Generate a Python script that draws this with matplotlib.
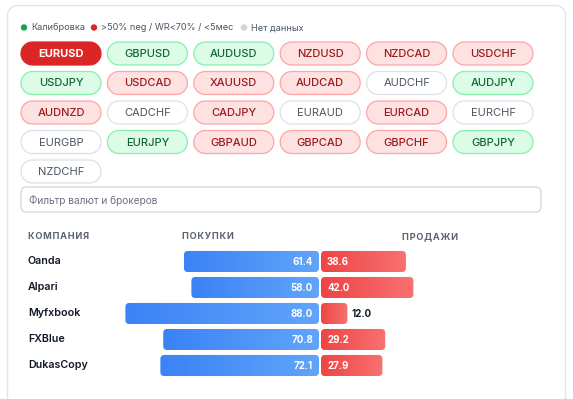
import numpy as np
import matplotlib
matplotlib.use("Agg")
from matplotlib import pyplot as plt
from matplotlib.patches import FancyBboxPatch, Circle, Polygon
from matplotlib.colors import LinearSegmentedColormap

plt.rcParams['font.family'] = ['Inter', 'DejaVu Sans']

# данные
pairs = ["EURUSD", "GBPUSD", "AUDUSD", "NZDUSD", "NZDCAD", "USDCHF",
         "USDJPY", "USDCAD", "XAUUSD", "AUDCAD", "AUDCHF", "AUDJPY",
         "AUDNZD", "CADCHF", "CADJPY", "EURAUD", "EURCAD", "EURCHF",
         "EURGBP", "EURJPY", "GBPAUD", "GBPCAD", "GBPCHF", "GBPJPY",
         "NZDCHF"]
# a = активная, g = калибровка, r = >50% neg, n = нет данных
status = ["a", "g", "g", "r", "r", "r",
          "g", "r", "r", "r", "n", "g",
          "r", "n", "r", "n", "r", "n",
          "n", "g", "r", "r", "r", "g",
          "n"]
legend_labels = ["Калибровка", ">50% neg / WR<70% / <5мес", "Нет данных"]
companies = ["Oanda", "Alpari", "Myfxbook", "FXBlue", "DukasCopy"]
buys = [61.4, 58.0, 88.0, 70.8, 72.1]
sells = [38.6, 42.0, 12.0, 29.2, 27.9]

W, H = 573, 399
fig = plt.figure(figsize=(W / 100, H / 100), dpi=100)
fig.patch.set_facecolor("white")
bg = fig.add_axes([0, 0, 1, 1])
bg.set_xlim(0, W)
bg.set_ylim(H, 0)
bg.axis("off")


def rrect(x0, y0, w, h, r, **kw):
    """скруглённый прямоугольник с круглыми углами (в пикселях)"""
    pts = []
    corners = [(x0 + w - r, y0 + r, -90, 0), (x0 + w - r, y0 + h - r, 0, 90),
               (x0 + r, y0 + h - r, 90, 180), (x0 + r, y0 + r, 180, 270)]
    for cx, cy, a0, a1 in corners:
        t = np.radians(np.linspace(a0, a1, 16))
        pts += list(zip(cx + r * np.cos(t), cy + r * np.sin(t)))
    bg.add_patch(Polygon(pts, closed=True, **kw))


# карточка
rrect(7.5, 5.5, 558, 420, 10, fc="white", ec="#e2e4e8", lw=1)

# легенда
leg_x = [24, 94, 244]
leg_dot = ["#16a34a", "#dc2626", "#d1d5db"]
for x, c, t in zip(leg_x, leg_dot, legend_labels):
    bg.add_patch(Circle((x, 27.5), 3.2, color=c, lw=0))
    bg.text(x + 7, 27.8, t, fontsize=6.6, color="#4b5563", va="center", ha="left")

styles = {
    "a": dict(fc="#dc2626", ec="#dc2626", tc="white", fw="bold"),
    "g": dict(fc="#dcfce7", ec="#86efac", tc="#166534", fw="medium"),
    "r": dict(fc="#fee2e2", ec="#fca5a5", tc="#991b1b", fw="medium"),
    "n": dict(fc="white", ec="#dde1e6", tc="#4b5563", fw="normal"),
}
bw, bh = 80, 23
for i, (p, s) in enumerate(zip(pairs, status)):
    r, c = divmod(i, 6)
    x0 = 21 + 86.4 * c
    y0 = 42 + 29.5 * r
    st = styles[s]
    rrect(x0, y0, bw, bh, bh / 2, fc=st["fc"], ec=st["ec"], lw=0.9)
    bg.text(x0 + bw / 2, y0 + bh / 2 + 0.5, p, fontsize=8.0, color=st["tc"],
            fontweight=st["fw"], ha="center", va="center")

# поле фильтра
rrect(21, 187, 520, 25, 5, fc="white", ec="#d1d5db", lw=0.9)
bg.text(29, 200, "Фильтр валют и брокеров", fontsize=7.3, color="#6b7280", va="center")

# заголовки (с разрядкой)
for x, t in [(28, "КОМПАНИЯ"), (182, "ПОКУПКИ"), (402, "ПРОДАЖИ")]:
    bg.text(x, 236.5, "\u200a".join(t), fontsize=6.6, color="#5b6270",
            fontweight="bold", va="center")

# график
px_unit = 2.2
left_px, right_px, center_px = 120, 420, 320
top_px, row_px = 248.5, 26
n = len(companies)
ax = fig.add_axes([left_px / W, 1 - (top_px + n * row_px) / H,
                   (right_px - left_px) / W, n * row_px / H])
ax.axis("off")
ax.patch.set_alpha(0)

blue_cm = LinearSegmentedColormap.from_list("b", ["#3b82f6", "#60a5fa"])
red_cm = LinearSegmentedColormap.from_list("r", ["#ef4444", "#f87171"])
grad = np.linspace(0, 1, 256).reshape(1, -1)
h = 0.81
gap = 1 / px_unit
aspect = px_unit / row_px


def bar(x0, x1, y, cm):
    patch = FancyBboxPatch((x0, y - h / 2), x1 - x0, h,
                           boxstyle="round,pad=0,rounding_size=%f" % (4 / px_unit),
                           mutation_aspect=aspect, fc="none", ec="none")
    ax.add_patch(patch)
    im = ax.imshow(grad, extent=[x0, x1, y + h / 2, y - h / 2], cmap=cm,
                   aspect="auto", interpolation="bilinear")
    im.set_clip_path(patch)


for i, (name, b, s) in enumerate(zip(companies, buys, sells)):
    bar(-b - gap, -gap, i, blue_cm)
    bar(gap, s + gap, i, red_cm)
    ax.text(-gap - 6 / px_unit, i + 0.03, "%.1f" % b, color="white", fontsize=7,
            fontweight="bold", ha="right", va="center")
    if s >= 20:
        ax.text(gap + 6 / px_unit, i + 0.03, "%.1f" % s, color="white", fontsize=7,
                fontweight="bold", ha="left", va="center")
    else:
        ax.text(s + gap + 4 / px_unit, i + 0.03, "%.1f" % s, color="#111827", fontsize=7,
                fontweight="bold", ha="left", va="center")
    bg.text(28, top_px + row_px * (i + 0.5), name, fontsize=7.7, color="#111827",
            fontweight="semibold", va="center")

ax.set_xlim(-(center_px - left_px) / px_unit, (right_px - center_px) / px_unit)
ax.set_ylim(n - 0.5, -0.5)

fig.savefig("out.png", dpi=100, facecolor="white")
